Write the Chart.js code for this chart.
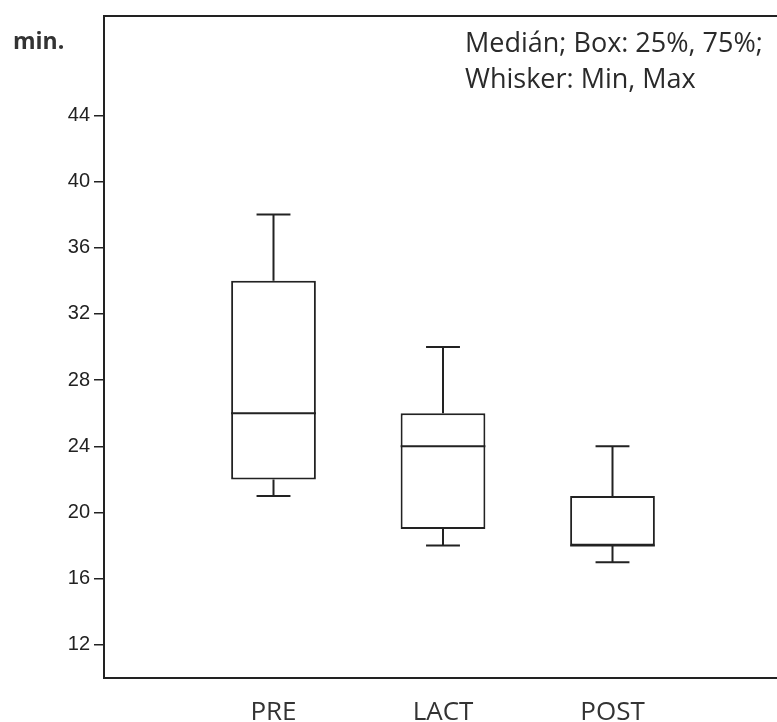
<!DOCTYPE html>
<html>
<head>
<meta charset="utf-8">
<script src="https://cdn.jsdelivr.net/npm/chart.js@4.4.1/dist/chart.umd.min.js"></script>
<style>
    html, body { margin: 0; padding: 0; overflow: hidden; background: #fff; }
    #wrap { width: 790px; height: 722px; }
</style>
</head>
<body>
<div id="wrap"><canvas id="box-chart" width="790" height="722"></canvas></div>
<script>
// box plot values (minutes)
const categories = ['PRE', 'LACT', 'POST'];
const minVals = [21, 18, 17];
const q1Vals = [22, 19, 18];
const medianVals = [26, 24, 18];
const q3Vals = [34, 26, 21];
const maxVals = [38, 30, 24];
const yTicks = [12, 16, 20, 24, 28, 32, 36, 40, 44];

const lineColor = '#222';

// whiskers, caps and median lines on top of the floating bars
const boxPlotLines = {
    id: 'boxPlotLines',
    beforeDatasetsDraw(chart) {
        const { ctx, chartArea } = chart;
        ctx.save();
        ctx.strokeStyle = lineColor;
        ctx.lineWidth = 2;
        ctx.strokeRect(chartArea.left, chartArea.top, chartArea.right - chartArea.left, chartArea.bottom - chartArea.top);
        ctx.restore();
    },
    afterDatasetsDraw(chart) {
        const { ctx } = chart;
        const x = chart.scales.x;
        const y = chart.scales.y;
        const meta = chart.getDatasetMeta(0);
        ctx.save();
        ctx.strokeStyle = lineColor;
        ctx.lineWidth = 2;
        categories.forEach((c, i) => {
            const bar = meta.data[i];
            const cx = x.getPixelForValue(i + 1);
            const half = bar.width / 2;
            const cap = bar.width * 0.2;
            const yMin = y.getPixelForValue(minVals[i]);
            const yMax = y.getPixelForValue(maxVals[i]);
            const yQ1 = y.getPixelForValue(q1Vals[i]);
            const yQ3 = y.getPixelForValue(q3Vals[i]);
            const yMed = y.getPixelForValue(medianVals[i]);
            ctx.beginPath();
            // whiskers
            ctx.moveTo(cx, yQ3); ctx.lineTo(cx, yMax);
            ctx.moveTo(cx, yQ1); ctx.lineTo(cx, yMin);
            // caps
            ctx.moveTo(cx - cap, yMax); ctx.lineTo(cx + cap, yMax);
            ctx.moveTo(cx - cap, yMin); ctx.lineTo(cx + cap, yMin);
            // median
            ctx.moveTo(cx - half, yMed); ctx.lineTo(cx + half, yMed);
            ctx.stroke();
        });
        ctx.restore();
    },
    afterDraw(chart) {
        const { ctx } = chart;
        ctx.save();
        ctx.fillStyle = '#333';
        ctx.textBaseline = 'middle';
        ctx.font = 'bold 23px "Open Sans"';
        ctx.fillText('min.', 13, 42);
        ctx.fillStyle = '#2a2a2a';
        ctx.font = '27px "Open Sans"';
        ctx.fillText('Medián; Box: 25%, 75%;', 465, 44);
        ctx.fillText('Whisker: Min, Max', 465, 80);
        ctx.restore();
    }
};

const ctx = document.getElementById('box-chart').getContext('2d');
const boxChart = new Chart(ctx, {
    type: 'bar',
    data: {
        datasets: [{
            data: categories.map((c, i) => ({ x: i + 1, y: [q1Vals[i], q3Vals[i]] })),
            backgroundColor: '#fff',
            borderColor: lineColor,
            borderWidth: 2,
            borderSkipped: false,
            barPercentage: 0.5,
            categoryPercentage: 1.0
        }]
    },
    options: {
        responsive: false,
        animation: false,
        layout: { padding: { top: 15, right: 8, left: 0, bottom: 0 } },
        plugins: {
            legend: { display: false },
            tooltip: { enabled: false }
        },
        scales: {
            x: {
                type: 'linear',
                min: 0,
                max: 4,
                offset: false,
                afterBuildTicks: (scale) => {
                    scale.ticks = categories.map((c, i) => ({ value: i + 1 }));
                },
                afterFit: (scale) => { scale.height = 44; },
                grid: { display: false, drawTicks: false },
                border: { display: true, color: lineColor, width: 2 },
                ticks: {
                    padding: 19,
                    color: '#333',
                    font: { family: 'Open Sans', size: 26 },
                    callback: (value) => categories[value - 1] || ''
                }
            },
            y: {
                min: 10,
                max: 50,
                afterBuildTicks: (scale) => {
                    scale.ticks = yTicks.map(v => ({ value: v }));
                },
                afterFit: (scale) => { scale.width = 104; },
                grid: {
                    drawOnChartArea: false,
                    drawTicks: true,
                    tickLength: 10,
                    color: lineColor,
                    lineWidth: 1.5
                },
                border: { display: true, color: lineColor, width: 2 },
                ticks: {
                    padding: 4,
                    color: '#222',
                    font: { family: 'Liberation Sans', size: 20 }
                }
            }
        }
    },
    plugins: [boxPlotLines]
});
</script>
</body>
</html>
